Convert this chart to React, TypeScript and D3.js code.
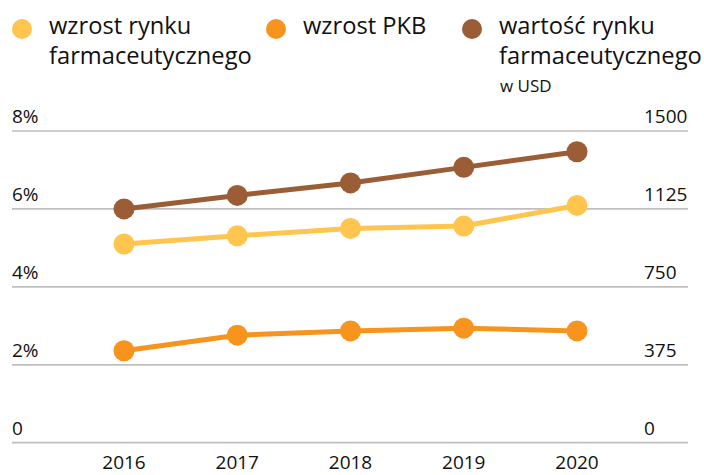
import { useEffect, useRef } from "react";
import * as d3 from "d3";

const years = ["2016", "2017", "2018", "2019", "2020"];
const rynekGrowth = [5.1, 5.31, 5.5, 5.56, 6.09]; // % (left axis)
const pkbGrowth = [2.36, 2.76, 2.87, 2.94, 2.87]; // % (left axis)
const marketValue = [1125, 1190, 1250, 1325, 1400]; // USD (right axis)
const leftTicks = [0, 2, 4, 6, 8];
const rightTicks = [0, 375, 750, 1125, 1500];

const legendItems = [
  { lines: ["wzrost rynku", "farmaceutycznego"], color: "#FFC54F", x: 22 },
  { lines: ["wzrost PKB"], color: "#F7941E", x: 276 },
  { lines: ["wartość rynku", "farmaceutycznego"], color: "#9B5D36", x: 472, note: "w USD" },
];

export default function App() {
  const svgRef = useRef<SVGSVGElement>(null);

  useEffect(() => {
    if (!svgRef.current) return;
    const svg = d3.select(svgRef.current);
    const width = 704;
    const height = 475;
    const font = "'Open Sans', sans-serif";

    svg.selectAll("*").remove();
    svg.attr("width", width).attr("height", height);

    const gridLeft = 12;
    const gridRight = 688;

    // Scales
    const x = d3.scalePoint().domain(years).range([124, 577]);
    const yLeft = d3.scaleLinear().domain([0, 8]).range([442.7, 131]);
    const yRight = d3.scaleLinear().domain([0, 1500]).range([442.7, 131]);

    // Grid lines
    svg
      .append("g")
      .selectAll("line")
      .data(leftTicks)
      .enter()
      .append("line")
      .attr("x1", gridLeft)
      .attr("x2", gridRight)
      .attr("y1", (d) => yLeft(d))
      .attr("y2", (d) => yLeft(d))
      .attr("stroke", "#BFBFBF")
      .attr("stroke-width", 1.7);

    // Left tick labels
    svg
      .append("g")
      .selectAll("text")
      .data(leftTicks)
      .enter()
      .append("text")
      .attr("x", gridLeft)
      .attr("y", (d) => yLeft(d) - 8)
      .attr("font-family", font)
      .attr("font-size", "19px")
      .attr("fill", "#111111")
      .text((d) => (d === 0 ? "0" : `${d}%`));

    // Right tick labels
    svg
      .append("g")
      .selectAll("text")
      .data(rightTicks)
      .enter()
      .append("text")
      .attr("x", 644)
      .attr("y", (d) => yRight(d) - 8)
      .attr("font-family", font)
      .attr("font-size", "19px")
      .attr("fill", "#111111")
      .text((d) => `${d}`);

    // Year labels
    svg
      .append("g")
      .selectAll("text")
      .data(years)
      .enter()
      .append("text")
      .attr("x", (d) => x(d)!)
      .attr("y", 469)
      .attr("text-anchor", "middle")
      .attr("font-family", font)
      .attr("font-size", "19px")
      .attr("fill", "#111111")
      .text((d) => d);

    // Series
    const series = [
      { values: marketValue, scale: yRight, color: "#9B5D36" },
      { values: rynekGrowth, scale: yLeft, color: "#FFC54F" },
      { values: pkbGrowth, scale: yLeft, color: "#F7941E" },
    ];

    series.forEach((s) => {
      const pts: [number, number][] = s.values.map((v, i) => [
        x(years[i])!,
        s.scale(v),
      ]);
      svg
        .append("path")
        .attr("d", d3.line()(pts))
        .attr("fill", "none")
        .attr("stroke", s.color)
        .attr("stroke-width", 5);
      svg
        .append("g")
        .selectAll("circle")
        .data(pts)
        .enter()
        .append("circle")
        .attr("cx", (d) => d[0])
        .attr("cy", (d) => d[1])
        .attr("r", 10.5)
        .attr("fill", s.color);
    });

    // Legend
    legendItems.forEach((item) => {
      svg
        .append("circle")
        .attr("cx", item.x)
        .attr("cy", 29)
        .attr("r", 10)
        .attr("fill", item.color);
      item.lines.forEach((line, i) => {
        svg
          .append("text")
          .attr("x", item.x + 27)
          .attr("y", 34 + i * 30)
          .attr("font-family", font)
          .attr("font-size", "23.7px")
          .attr("fill", "#111111")
          .text(line);
      });
      if (item.note) {
        svg
          .append("text")
          .attr("x", item.x + 28)
          .attr("y", 92)
          .attr("font-family", font)
          .attr("font-size", "17px")
          .attr("fill", "#111111")
          .text(item.note);
      }
    });
  }, []);

  return (
    <svg
      ref={svgRef}
      style={{ position: "absolute", left: 0, top: 0, background: "#fff" }}
    ></svg>
  );
}
